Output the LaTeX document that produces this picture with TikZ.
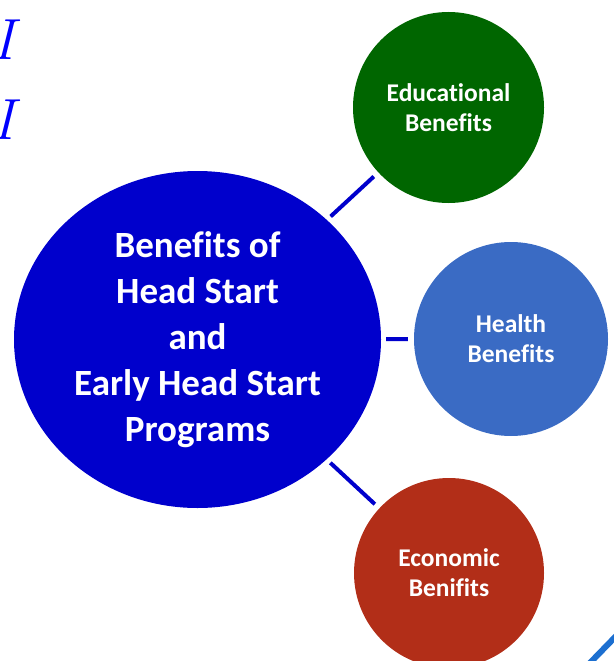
\documentclass[tikz,border=0pt]{standalone}
\usepackage{fontspec}
\setmainfont{Carlito}[Ligatures=NoCommon]
\newfontfamily\letterfont{Latin Modern Roman}
\usetikzlibrary{shapes.geometric}
\definecolor{hubblue}{HTML}{0000CC}
\definecolor{edugreen}{HTML}{006600}
\definecolor{healthblue}{HTML}{3A6BC4}
\definecolor{econred}{HTML}{B22E18}
\definecolor{cornerblue}{HTML}{1C6FD0}
\definecolor{letterblue}{HTML}{0000FF}
\begin{document}
\begin{tikzpicture}[x=1pt,y=-1pt,
  hub/.style={ellipse, fill=hubblue, minimum width=367pt, minimum height=337pt,
    inner sep=0pt, text=white, align=center,
    font=\bfseries\fontsize{37}{46}\selectfont},
  leaf/.style={circle, inner sep=0pt, text=white, align=center,
    font=\bfseries\fontsize{25.5}{30}\selectfont},
  link/.style={draw=hubblue, line width=4pt, shorten <=5pt, shorten >=6pt},
  edgeletter/.style={text=letterblue, inner sep=0pt,
    font=\letterfont\itshape\fontsize{58}{58}\selectfont}]
\useasboundingbox (0,0) rectangle (613,661);

% italic letters at the left edge
\node[edgeletter] (m1) at (3,40) {I};
\node[edgeletter] (m2) at (3,120) {I};

% central ellipse and the three benefit circles
\node[hub] (hub) at (197.5,339.5)
  {Benefits of\\Head Start\\and\\Early Head Start\\Programs};
\node[leaf, fill=edugreen, minimum size=191pt] (edu) at (448.5,107.5)
  {Educational\\Benefits};
\node[leaf, fill=healthblue, minimum size=194pt] (health) at (511,339)
  {Health\\Benefits};
\node[leaf, fill=econred, minimum size=190pt] (econ) at (449,573)
  {Economic\\Benifits};

% connectors
\draw[link] (hub) -- (edu);
\draw[link] (hub) -- (health);
\draw[link] (hub) -- (econ);

% arc entering at the lower right corner
\draw[cornerblue, line width=6pt] (586,667) -- (619,633);
\end{tikzpicture}
\end{document}
